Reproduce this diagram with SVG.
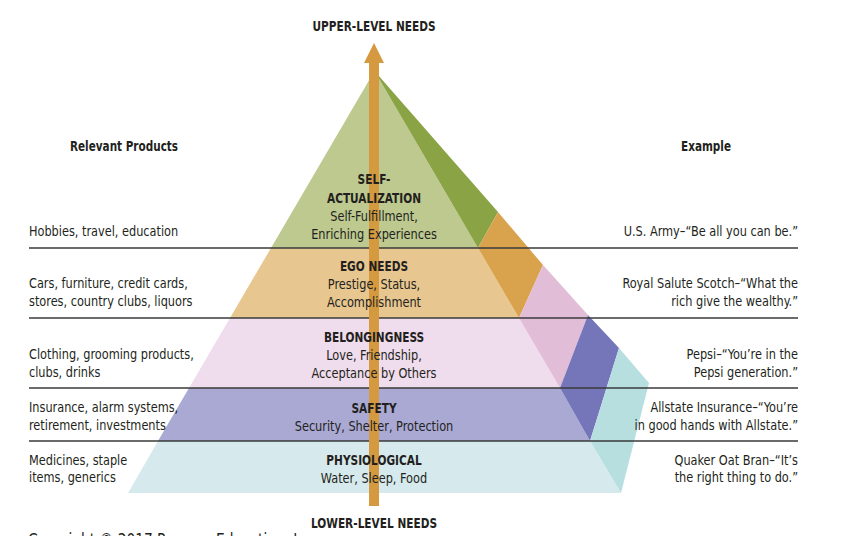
<svg xmlns="http://www.w3.org/2000/svg" width="846" height="536" viewBox="0 0 846 536">
<style>
text{font-family:"DejaVu Sans Condensed","Liberation Sans",sans-serif;fill:#231f20;font-size:14px}
.b{font-weight:bold}
.c{text-anchor:middle}
.r{text-anchor:end}
.rule{stroke:#3a3a3a;stroke-width:1.3;fill:none}
</style>
<rect width="846" height="536" fill="#ffffff"/>
<g id="self-actualization">
<polygon points="374.5,71 478,248 271,248" fill="#bdc98f"/>
<polygon points="374.5,71 498,212 478,248" fill="#8aa345"/>
</g>
<g id="ego-needs">
<polygon points="271,248 478,248 519,318 230,318" fill="#e8c68f"/>
<polygon points="478,248 498,212 543,265 519,318" fill="#d9a24d"/>
</g>
<g id="belongingness">
<polygon points="230,318 519,318 560,388 189,388" fill="#efdcec"/>
<polygon points="519,318 543,265 588,315 560,388" fill="#e2bdd8"/>
</g>
<g id="safety">
<polygon points="189,388 560,388 590,441 158,441" fill="#a9a9d4"/>
<polygon points="560,388 588,315 619,348 590,441" fill="#7476b9"/>
</g>
<g id="physiological">
<polygon points="158,441 590,441 621,493 128,493" fill="#d6eaed"/>
<polygon points="590,441 619,348 649,383 621,493" fill="#b8dfe0"/>
</g>
<g id="dividers">
<line class="rule" x1="29" y1="248" x2="798" y2="248"/>
<line class="rule" x1="29" y1="318" x2="798" y2="318"/>
<line class="rule" x1="29" y1="388" x2="798" y2="388"/>
<line class="rule" x1="29" y1="441" x2="798" y2="441"/>
</g>
<g id="connectors">
<polygon points="369,506 379,506 379,63 384,63 374,43 364,63 369,63" fill="#d59a3f"/>
</g>
<g id="labels-center-titles" transform="translate(374 0) scale(0.84 1)">
<text class="b c" x="0" y="184">SELF-</text>
<text class="b c" x="0" y="203">ACTUALIZATION</text>
<text class="b c" x="0" y="271">EGO NEEDS</text>
<text class="b c" x="0" y="342">BELONGINGNESS</text>
<text class="b c" x="0" y="413">SAFETY</text>
<text class="b c" x="0" y="465">PHYSIOLOGICAL</text>
<text class="b c" x="0" y="31">UPPER-LEVEL NEEDS</text>
<text class="b c" x="0" y="528">LOWER-LEVEL NEEDS</text>
</g>
<g id="labels-center-desc" transform="translate(374 0) scale(0.9 1)">
<text class="c" x="0" y="221">Self-Fulfillment,</text>
<text class="c" x="0" y="239">Enriching Experiences</text>
<text class="c" x="0" y="289">Prestige, Status,</text>
<text class="c" x="0" y="307">Accomplishment</text>
<text class="c" x="0" y="360">Love, Friendship,</text>
<text class="c" x="0" y="378">Acceptance by Others</text>
<text class="c" x="0" y="431">Security, Shelter, Protection</text>
<text class="c" x="0" y="483">Water, Sleep, Food</text>
</g>
<g id="header-products" transform="translate(124 0) scale(0.83 1)">
<text class="b c" x="0" y="151">Relevant Products</text>
</g>
<g id="header-example" transform="translate(706 0) scale(0.83 1)">
<text class="b c" x="0" y="151">Example</text>
</g>
<g id="products" transform="translate(29 0) scale(0.9 1)">
<text x="0" y="236">Hobbies, travel, education</text>
<text x="0" y="288">Cars, furniture, credit cards,</text>
<text x="0" y="306">stores, country clubs, liquors</text>
<text x="0" y="359">Clothing, grooming products,</text>
<text x="0" y="377">clubs, drinks</text>
<text x="0" y="412">Insurance, alarm systems,</text>
<text x="0" y="430">retirement, investments</text>
<text x="0" y="465">Medicines, staple</text>
<text x="0" y="482">items, generics</text>
</g>
<g id="examples" transform="translate(798 0) scale(0.9 1)">
<text class="r" x="0" y="236">U.S. Army–“Be all you can be.”</text>
<text class="r" x="0" y="288">Royal Salute Scotch–“What the</text>
<text class="r" x="0" y="306">rich give the wealthy.”</text>
<text class="r" x="0" y="359">Pepsi–“You’re in the</text>
<text class="r" x="0" y="377">Pepsi generation.”</text>
<text class="r" x="0" y="412">Allstate Insurance–“You’re</text>
<text class="r" x="0" y="430">in good hands with Allstate.”</text>
<text class="r" x="0" y="465">Quaker Oat Bran–“It’s</text>
<text class="r" x="0" y="482">the right thing to do.”</text>
</g>
<g id="copyright" transform="translate(28 0) scale(0.9 1)">
<text x="0" y="546" style="font-size:17px">Copyright © 2017 Pearson Education, Inc.</text>
</g>
</svg>
